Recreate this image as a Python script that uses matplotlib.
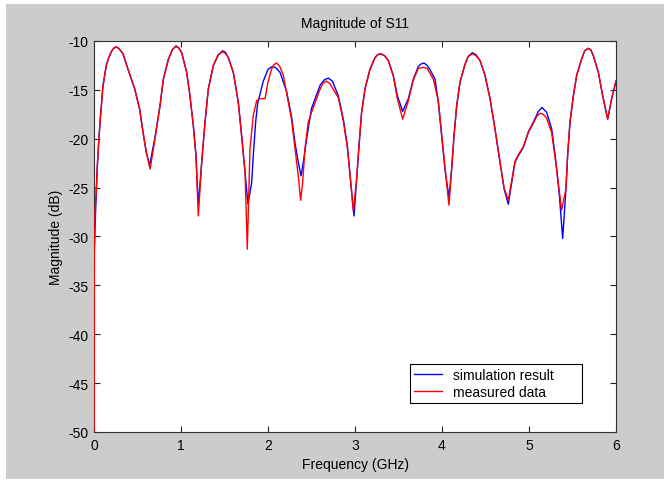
import matplotlib
matplotlib.use("Agg")
import matplotlib.pyplot as plt
from matplotlib.patches import Rectangle

# simulation result (blue)
sim_f = [0.0, 0.026, 0.038, 0.057, 0.072, 0.103, 0.141, 0.170, 0.199, 0.225, 0.256,
         0.290, 0.333, 0.391, 0.468, 0.525, 0.563, 0.601, 0.640, 0.698, 0.759, 0.797,
         0.854, 0.900, 0.943, 0.975, 1.008, 1.065, 1.103, 1.142, 1.172, 1.199, 1.238,
         1.276, 1.314, 1.372, 1.429, 1.479, 1.510, 1.544, 1.601, 1.659, 1.697, 1.736,
         1.770, 1.812, 1.831, 1.858, 1.881, 1.946, 2.000, 2.050, 2.090, 2.138, 2.215,
         2.272, 2.310, 2.348, 2.380, 2.406, 2.444, 2.500, 2.600, 2.650, 2.693, 2.740,
         2.808, 2.866, 2.912, 2.943, 2.989, 3.019, 3.046, 3.076, 3.115, 3.172, 3.230,
         3.260, 3.295, 3.340, 3.383, 3.440, 3.487, 3.548, 3.613, 3.670, 3.728, 3.760,
         3.793, 3.830, 3.860, 3.920, 3.958, 3.996, 4.034, 4.080, 4.111, 4.138, 4.169,
         4.207, 4.264, 4.300, 4.348, 4.390, 4.437, 4.494, 4.552, 4.609, 4.667, 4.713,
         4.762, 4.801, 4.839, 4.880, 4.935, 4.992, 5.050, 5.107, 5.149, 5.203, 5.261,
         5.310, 5.349, 5.387, 5.425, 5.444, 5.471, 5.510, 5.548, 5.606, 5.640, 5.680,
         5.710, 5.739, 5.797, 5.847, 5.904, 5.950, 6.000]
sim_db = [-32.1, -25.5, -22.8, -19.9, -18.0, -14.6, -12.5, -11.7, -11.1, -10.75, -10.6,
          -10.8, -11.3, -12.9, -14.9, -17.0, -19.3, -21.4, -22.7, -20.0, -16.6, -13.9,
          -11.9, -10.9, -10.5, -10.7, -11.2, -13.2, -15.6, -18.7, -21.7, -26.8, -22.4,
          -18.3, -14.9, -12.5, -11.4, -11.0, -11.15, -11.7, -13.2, -16.3, -19.7, -23.4,
          -26.7, -24.5, -21.7, -18.3, -16.4, -14.1, -12.9, -12.6, -12.75, -13.2, -15.2,
          -17.8, -20.4, -22.4, -23.8, -22.4, -20.0, -16.9, -14.5, -13.95, -13.8, -14.1,
          -15.6, -18.0, -20.7, -23.8, -27.9, -24.1, -20.7, -17.3, -14.9, -12.9, -11.7,
          -11.4, -11.3, -11.5, -12.0, -13.5, -15.6, -17.2, -15.9, -13.9, -12.6, -12.35,
          -12.25, -12.5, -12.9, -13.9, -16.3, -19.7, -23.1, -26.0, -23.1, -19.7, -16.6,
          -14.2, -12.4, -11.6, -11.2, -11.4, -12.0, -13.5, -15.9, -19.0, -22.4, -25.1,
          -26.7, -24.5, -22.4, -21.7, -20.9, -19.3, -18.3, -17.2, -16.8, -17.3, -19.0,
          -22.4, -25.8, -30.2, -25.1, -21.7, -18.3, -15.6, -13.5, -11.8, -11.0, -10.75,
          -10.9, -11.5, -13.2, -15.6, -18.0, -15.9, -14.1]

# measured data (red)
meas_f = [0.0, 0.004, 0.012, 0.026, 0.038, 0.057, 0.072, 0.103, 0.141, 0.170, 0.199,
          0.225, 0.256, 0.290, 0.333, 0.391, 0.468, 0.525, 0.563, 0.601, 0.645, 0.698,
          0.759, 0.797, 0.854, 0.900, 0.943, 0.975, 1.008, 1.065, 1.103, 1.142, 1.172,
          1.199, 1.238, 1.276, 1.314, 1.372, 1.429, 1.479, 1.510, 1.544, 1.601, 1.659,
          1.697, 1.736, 1.762, 1.793, 1.831, 1.870, 1.900, 1.966, 2.000, 2.040, 2.070,
          2.100, 2.135, 2.176, 2.270, 2.310, 2.348, 2.375, 2.398, 2.425, 2.463, 2.500,
          2.600, 2.630, 2.667, 2.710, 2.808, 2.866, 2.912, 2.943, 2.980, 3.019, 3.046,
          3.076, 3.115, 3.172, 3.230, 3.260, 3.295, 3.340, 3.383, 3.440, 3.487, 3.548,
          3.613, 3.670, 3.728, 3.780, 3.830, 3.900, 3.958, 3.996, 4.034, 4.080, 4.111,
          4.138, 4.169, 4.207, 4.264, 4.300, 4.348, 4.390, 4.437, 4.494, 4.552, 4.609,
          4.667, 4.713, 4.762, 4.801, 4.839, 4.880, 4.935, 4.992, 5.050, 5.090, 5.126,
          5.165, 5.203, 5.261, 5.310, 5.349, 5.375, 5.425, 5.444, 5.471, 5.510, 5.548,
          5.606, 5.640, 5.680, 5.710, 5.739, 5.797, 5.847, 5.904, 5.950, 6.000]
meas_db = [-50.0, -32.0, -27.5, -25.3, -22.8, -19.9, -18.0, -14.6, -12.5, -11.7, -11.1,
           -10.75, -10.6, -10.8, -11.3, -12.9, -14.9, -17.0, -19.3, -21.4, -23.1, -20.2,
           -16.6, -13.9, -11.9, -10.9, -10.55, -10.75, -11.2, -13.2, -15.6, -18.7, -21.7,
           -27.9, -22.4, -18.3, -14.9, -12.5, -11.4, -11.1, -11.25, -11.7, -13.2, -16.3,
           -19.7, -23.4, -31.3, -21.0, -17.6, -16.1, -15.9, -15.9, -14.2, -12.9, -12.4,
           -12.25, -12.6, -13.5, -18.0, -21.0, -23.8, -26.3, -24.5, -21.0, -18.3, -17.3,
           -14.9, -14.35, -14.1, -14.35, -15.8, -18.2, -20.9, -23.6, -27.4, -24.1, -20.7,
           -17.3, -14.9, -12.9, -11.7, -11.4, -11.3, -11.5, -12.0, -13.6, -15.9, -18.0,
           -16.1, -14.0, -12.8, -12.7, -12.8, -13.9, -16.1, -19.5, -22.9, -26.8, -23.1,
           -19.7, -16.6, -14.2, -12.4, -11.6, -11.3, -11.5, -12.0, -13.5, -15.9, -19.0,
           -22.4, -25.0, -26.3, -24.3, -22.3, -21.6, -20.8, -19.4, -18.4, -17.7, -17.4,
           -17.5, -17.9, -19.4, -22.6, -25.4, -27.3, -25.1, -21.7, -18.3, -15.6, -13.5,
           -11.8, -11.0, -10.75, -10.9, -11.5, -13.2, -15.6, -18.0, -15.9, -14.1]

x_ticks = [0, 1, 2, 3, 4, 5, 6]
y_ticks = [-50, -45, -40, -35, -30, -25, -20, -15, -10]

plt.rcParams['font.family'] = ['Liberation Sans', 'DejaVu Sans']
plt.rcParams['font.size'] = 10
plt.rcParams['axes.unicode_minus'] = False

fig = plt.figure(figsize=(6.68, 4.81), dpi=100, facecolor='white')
# grey MATLAB-style panel
fig.patches.append(Rectangle((6 / 668, 1 / 481), 658 / 668, 475 / 481,
                             transform=fig.transFigure, facecolor='#cccccc',
                             edgecolor='none', zorder=-10))

ax = fig.add_axes([94 / 668, 48 / 481, 522 / 668, 391 / 481])
ax.set_facecolor('white')

ax.plot(sim_f, sim_db, color='#0000ff', lw=1.0, label='simulation result', zorder=3)
ax.plot(meas_f, meas_db, color='#ff0000', lw=1.0, label='measured data', zorder=3)

ax.set_xlim(0, 6)
ax.set_ylim(-50, -10)
ax.set_xticks(x_ticks)
ax.set_yticks(y_ticks)
ax.tick_params(direction='in', length=4, width=0.8, top=True, right=True,
               labelsize=10, pad=4, color='#222222')
for s in ax.spines.values():
    s.set_linewidth(0.8)
    s.set_color('#333333')

ax.set_title('Magnitude of S11', fontsize=10, pad=10)
ax.set_xlabel('Frequency (GHz)', fontsize=10, labelpad=4)
ax.set_ylabel('Magnitude (dB)', fontsize=10, labelpad=4)

leg = ax.legend(loc='lower left', bbox_to_anchor=(0.605, 0.074, 0.33, 0.107),
                mode='expand', borderaxespad=0, fancybox=False, framealpha=1,
                edgecolor='black', handlelength=2.0, handletextpad=0.8,
                borderpad=0.3, labelspacing=0.2, fontsize=10)
leg.get_frame().set_linewidth(0.8)

fig.savefig('out.png', dpi=100, facecolor='white')
